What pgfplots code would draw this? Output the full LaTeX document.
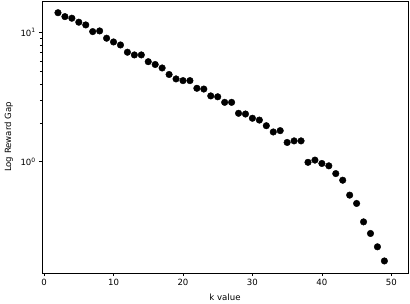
\documentclass[border=0pt]{standalone}
\usepackage{fontspec}
\setmainfont{DejaVu Sans}
\usepackage{pgfplots}
\pgfplotsset{compat=1.18}
\begin{document}
\fontsize{8.6}{10}\selectfont
\begin{tikzpicture}[x=1bp,y=1bp]
\begin{axis}[
  at={(0bp,0bp)}, anchor=south west,
  scale only axis,
  width=366bp, height=272bp,
  ymode=log,
  xmin=-0.3, xmax=52.4,
  ymin=0.138, ymax=17.5,
  xtick={0,10,20,30,40,50},
  ytick={1,10},
  yticklabels={10\textsuperscript{0},10\textsuperscript{1}},
  xtick pos=left, ytick pos=left,
  tick align=outside,
  major tick length=3.2bp,
  minor tick length=2bp,
  tick style={black, line width=0.6pt},
  axis line style={line width=0.6pt},
  /pgf/number format/assume math mode=true,
  ticklabel style={font=\fontsize{8.6}{10}\selectfont},
  label style={font=\fontsize{8.6}{10}\selectfont},
  xlabel={k value},
  ylabel={Log Reward Gap},
  xlabel style={at={(axis description cs:0.5,0)}, anchor=center, yshift=-24bp},
  every axis y label/.append style={at={(axis description cs:0,0.5)}, anchor=south, yshift=26bp},
  axis background/.style={fill=white},
]
\addplot[only marks, mark=*, mark size=3.3bp, black] coordinates {
(2,14.2) (3,13.25) (4,12.88) (5,12.0) (6,11.43) (7,10.15) (8,10.27) (9,9.02)
(10,8.44) (11,8.0) (12,7.03) (13,6.70) (14,6.70) (15,5.94) (16,5.65) (17,5.31)
(18,4.73) (19,4.37) (20,4.24) (21,4.24) (22,3.70) (23,3.65) (24,3.23) (25,3.18)
(26,2.88) (27,2.88) (28,2.37) (29,2.34) (30,2.17) (31,2.10) (32,1.90) (33,1.70)
(34,1.74) (35,1.41) (36,1.45) (37,1.45) (38,0.99) (39,1.03) (40,0.97) (41,0.93)
(42,0.81) (43,0.72) (44,0.552) (45,0.476) (46,0.343) (47,0.279) (48,0.220) (49,0.171)
};
\end{axis}
\path[use as bounding box] (-42bp,-29bp) rectangle (368bp,273bp);
\end{tikzpicture}
\end{document}
